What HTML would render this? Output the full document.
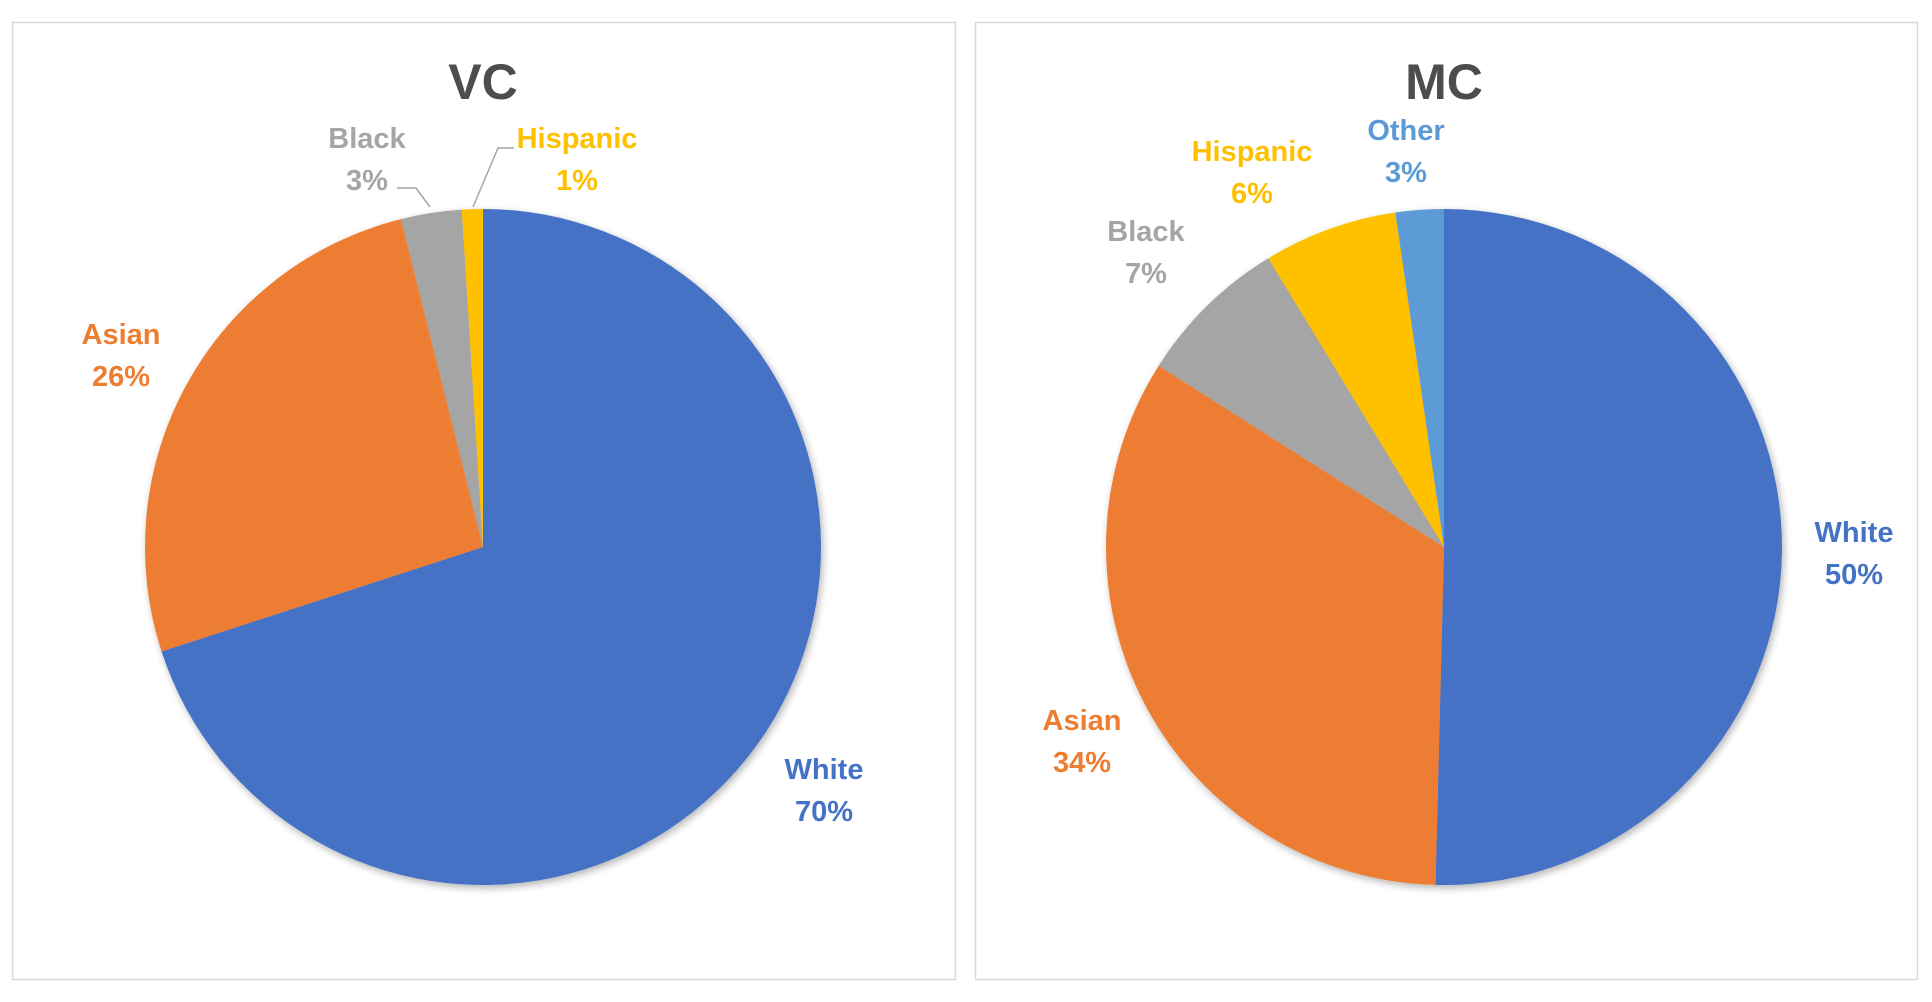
<!DOCTYPE html>
<html><head><meta charset="utf-8"><style>
html,body{margin:0;padding:0;background:#fff;}
svg{display:block;font-family:"Liberation Sans",sans-serif;font-weight:bold;}
</style></head><body>
<svg id="chart" width="1932" height="1002" viewBox="0 0 1932 1002">
<defs><filter id="sh" x="-10%" y="-10%" width="120%" height="120%"><feGaussianBlur in="SourceAlpha" stdDeviation="4"/><feOffset dx="2" dy="3"/><feComponentTransfer><feFuncA type="linear" slope="0.3"/></feComponentTransfer><feMerge><feMergeNode/><feMergeNode in="SourceGraphic"/></feMerge></filter></defs>
<rect x="12.5" y="22.5" width="943" height="957" fill="#fff" stroke="#d9d9d9" stroke-width="1.5"/>
<rect x="975.5" y="22.5" width="942" height="957" fill="#fff" stroke="#d9d9d9" stroke-width="1.5"/>
<text x="483" y="99" text-anchor="middle" font-size="50" fill="#4d4d4d">VC</text>
<text x="1444" y="99" text-anchor="middle" font-size="50" fill="#4d4d4d">MC</text>
<g id="vc" filter="url(#sh)"></g>
<g id="mc" filter="url(#sh)"></g>
<polyline points="397,188 416,188 430,207" fill="none" stroke="#a6a6a6" stroke-width="1.5"/>
<polyline points="514,148 498,148 473,207" fill="none" stroke="#a6a6a6" stroke-width="1.5"/>
<g id="labels"></g>
</svg>
<script>
const vcCategories = ["White","Asian","Black","Hispanic"];
const vcValues = [70, 26.1, 2.9, 1];
const vcPrinted = ["70%","26%","3%","1%"];
const mcCategories = ["White","Asian","Black","Hispanic","Other"];
const mcValues = [50.4, 33.6, 7.3, 6.4, 2.3];
const mcPrinted = ["50%","34%","7%","6%","3%"];
const colorMap = {White:"#4472C4",Asian:"#ED7D31",Black:"#A5A5A5",Hispanic:"#FFC000",Other:"#5B9BD5"};
const NS="http://www.w3.org/2000/svg";
function drawPie(gid, cats, vals, cx, cy, r, prefix){
  const g=document.getElementById(gid);
  const total=vals.reduce((a,b)=>a+b,0);
  let a=0;
  cats.forEach((c,i)=>{
    const a0=a/total*2*Math.PI; a+=vals[i]; const a1=a/total*2*Math.PI;
    const x0=cx+r*Math.sin(a0), y0=cy-r*Math.cos(a0), x1=cx+r*Math.sin(a1), y1=cy-r*Math.cos(a1);
    const large=(a1-a0)>Math.PI?1:0;
    const p=document.createElementNS(NS,"path");
    p.setAttribute("d",`M${cx},${cy} L${x0},${y0} A${r},${r} 0 ${large} 1 ${x1},${y1} Z`);
    p.setAttribute("fill",colorMap[c]);
    
    
    g.appendChild(p);
  });
}
drawPie("vc", vcCategories, vcValues, 483, 547, 338, "vc");
drawPie("mc", mcCategories, mcValues, 1444, 547, 338, "mc");
const vcLabelPos = {White:[824,768],Asian:[121,333],Black:[367,137],Hispanic:[577,137]};
const mcLabelPos = {White:[1854,531],Asian:[1082,719],Black:[1146,230],Hispanic:[1252,150],Other:[1406,129]};
function drawLabels(cats, printed, pos, prefix){
  const g=document.getElementById("labels");
  cats.forEach((c,i)=>{
    const [x,y]=pos[c];
    const t1=document.createElementNS(NS,"text");
    t1.setAttribute("x",x); t1.setAttribute("y",y+11); t1.setAttribute("text-anchor","middle");
    t1.setAttribute("font-size","29"); t1.setAttribute("fill",colorMap[c]);
    t1.textContent=c;
    
    
    g.appendChild(t1);
    const t2=document.createElementNS(NS,"text");
    t2.setAttribute("x",x); t2.setAttribute("y",y+53); t2.setAttribute("text-anchor","middle");
    t2.setAttribute("font-size","29"); t2.setAttribute("fill",colorMap[c]);
    t2.textContent=printed[i];
    
    
    g.appendChild(t2);
  });
}
drawLabels(vcCategories, vcPrinted, vcLabelPos, "vc");
drawLabels(mcCategories, mcPrinted, mcLabelPos, "mc");
</script>
</body></html>
